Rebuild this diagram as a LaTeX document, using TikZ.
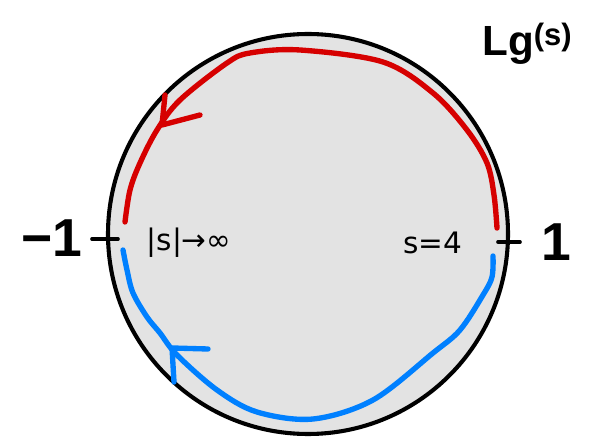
\documentclass[tikz,border=0pt]{standalone}
\usepackage{fontspec}
\setmainfont{Liberation Sans}
\newfontfamily\symfont{DejaVu Sans}
\usetikzlibrary{positioning}
\definecolor{diskgray}{RGB}{227,227,227}
\definecolor{pathred}{RGB}{214,0,0}
\definecolor{pathblue}{RGB}{0,128,255}

\begin{document}
\begin{tikzpicture}[x=0.025cm, y=-0.025cm,
    rim/.style={draw=black, line width=2.9pt},
    loop/.style={line width=3.8pt, line cap=round, line join=round},
    tick/.style={line width=2.6pt, line cap=round},
    bigmark/.style={font=\fontsize{38}{38}\selectfont\bfseries},
    smallmark/.style={font=\symfont\fontsize{21}{21}\selectfont, inner sep=0pt}]
    \useasboundingbox (0,0) rectangle (598,438);
    \draw[rim, fill=diskgray] (308,234) circle (200);
    % upper half, red
    \draw[loop, pathred] plot[smooth, tension=0.55] coordinates {(497,228) (494,195) (487,163) (467,130) (433,93) (383,62) (300,50) (250,53) (227,63) (180,100) (157,130) (140,163) (130,190) (125,222)};
    \coordinate (redtip) at (162,125);
    \draw[loop, pathred] (165,95) -- (redtip) -- (200,115);
    % lower half, blue
    \draw[loop, pathblue] plot[smooth, tension=0.55] coordinates {(493,256) (492,277) (483,295) (460,330) (433,353) (373,400) (313,419) (257,412) (217,390) (177,355) (160,333) (147,317) (133,293) (127,270) (123,250)};
    \coordinate (bluetip) at (172,348);
    \draw[loop, pathblue] (208,349) -- (bluetip) -- (174,382);
    % marks on the rim
    \coordinate (lefttick) at (92,239);
    \coordinate (righttick) at (520,242);
    \draw[tick] (lefttick) -- ++(26,0);
    \draw[tick] (righttick) -- ++(-22,0);
    \node[bigmark] (minusone) at (52,238) {−1};
    \node[bigmark] (plusone) at (556,242) {1};
    \node[smallmark] (far) at (189,243) {|s|→∞};
    \node[smallmark] (four) at (433,243) {s=4};
    \node[font=\fontsize{30}{30}\selectfont\bfseries] (title) at (527,44) {Lg\raisebox{0.45ex}{\fontsize{22}{22}\selectfont(s)}};
\end{tikzpicture}
\end{document}
